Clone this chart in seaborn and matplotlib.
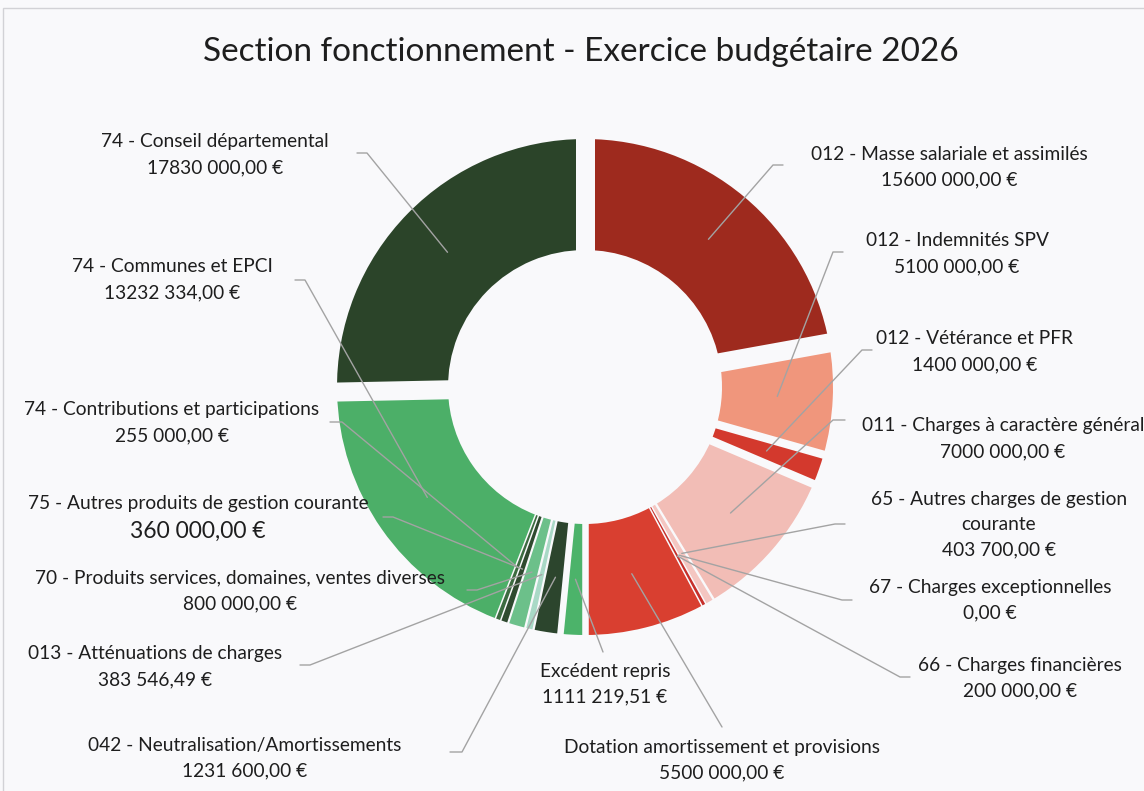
import numpy as np
import matplotlib
matplotlib.use("Agg")
import matplotlib.pyplot as plt
from matplotlib.patches import Rectangle
import seaborn as sns

# Postes du budget, dans l'ordre horaire à partir de midi
postes = [
    "012 - Masse salariale et assimilés",
    "012 - Indemnités SPV",
    "012 - Vétérance et PFR",
    "011 - Charges à caractère général",
    "65 - Autres charges de gestion\ncourante",
    "67 - Charges exceptionnelles",
    "66 - Charges financières",
    "Dotation amortissement et provisions",
    "Excédent repris",
    "042 - Neutralisation/Amortissements",
    "013 - Atténuations de charges",
    "70 - Produits services, domaines, ventes diverses",
    "75 - Autres produits de gestion courante",
    "74 - Contributions et participations",
    "74 - Communes et EPCI",
    "74 - Conseil départemental",
]
montants = [15600000, 5100000, 1400000, 7000000, 403700, 0, 200000, 5500000,
            1111219.51, 1231600, 383546.49, 800000, 360000, 255000, 13232334, 17830000]
montants_txt = ["15600 000,00 €", "5100 000,00 €", "1400 000,00 €", "7000 000,00 €",
                "403 700,00 €", "0,00 €", "200 000,00 €", "5500 000,00 €",
                "1111 219,51 €", "1231 600,00 €", "383 546,49 €", "800 000,00 €",
                "360 000,00 €", "255 000,00 €", "13232 334,00 €", "17830 000,00 €"]
couleurs = ["#9e2a1e", "#f0967c", "#d3392d", "#f2bdb6", "#f4c6c1", "#e8a9a3", "#c62f2a", "#d93f30",
            "#4cb36a", "#2c452d", "#a9d9c6", "#6cc08a", "#2f4a2f", "#3c6b40", "#4caf68", "#2b4429"]

titre = "Section fonctionnement - Exercice budgétaire 2026"

# Mise en page (pixels, y vers le bas)
W, H = 1144, 791
CX, CY, R, EP = 585, 387, 248, 111
FOND = "#f9f9fb"

# étiquettes : (x centre, y de la 1re ligne) et coude du trait (x, y, palier)
etiquettes = [(949, 154), (957, 241), (975, 339), (1003, 426), (999, 499), (990, 587), (1020, 665), (722, 747),
              (605, 671), (245, 745), (155, 654), (240, 578), (198, 503), (172, 410), (172, 267), (215, 142)]
coudes = [(773, 165, 10), (833, 252, 10), (862, 350, 10), (833, 420, 12), (835, 524, 10), (842, 600, 10),
          (900, 677, 10), (722, 727, 0), (603, 652, 0), (462, 752, -12), (310, 665, -10), (477, 590, -10),
          (393, 517, -10), (342, 422, -12), (305, 280, -10), (367, 153, -10)]


def Y(y):
    return H - y


sns.set_theme(style="white")
plt.rcParams['font.family'] = ['Lato', 'DejaVu Sans']

fig = plt.figure(figsize=(W / 100, H / 100), dpi=100, facecolor=FOND)
ax = fig.add_axes([0, 0, 1, 1])
ax.set_facecolor(FOND)

wedges, _ = ax.pie(montants, colors=couleurs, startangle=90, counterclock=False,
                   center=(CX, Y(CY)), radius=R, wedgeprops=dict(width=EP, linewidth=0))
ax.set_xlim(0, W)
ax.set_ylim(0, H)
ax.axis("off")

# séparations blanches entre les parts, plus fines pour les petites parts
deg = np.array(montants) / sum(montants) * 360
nz = [i for i in range(len(montants)) if montants[i] > 0]
for k, i in enumerate(nz):
    j = nz[(k + 1) % len(nz)]
    a = np.deg2rad(wedges[i].theta1)
    gap = np.clip(1.15 * min(deg[i], deg[j]), 1.5, 19) * 0.72
    r0, r1 = R - EP - 3, R + 3
    ax.plot([CX + r0 * np.cos(a), CX + r1 * np.cos(a)],
            [Y(CY) + r0 * np.sin(a), Y(CY) + r1 * np.sin(a)],
            color=FOND, lw=gap, solid_capstyle="butt", zorder=3)

# traits de rappel et étiquettes
for i, w in enumerate(wedges):
    m = np.deg2rad((w.theta1 + w.theta2) / 2)
    rm = R - EP / 2
    ax0, ay0 = CX + rm * np.cos(m), Y(CY) + rm * np.sin(m)
    cx_, cy_, pal = coudes[i]
    ax.plot([ax0, cx_, cx_ + pal], [ay0, Y(cy_), Y(cy_)], color="#a3a3a3", lw=1, zorder=4)

    x, y = etiquettes[i]
    lignes = postes[i].split("\n")
    for k, txt in enumerate(lignes):
        ax.text(x, Y(y + 25.5 * k), txt, ha="center", va="center", fontsize=13.8, color="#1e1e1e")
    gros = postes[i].startswith("75")
    ax.text(x, Y(y + 25.5 * len(lignes) + (3 if gros else 0)), montants_txt[i], ha="center", va="center",
            fontsize=16.5 if gros else 13.8, color="#1e1e1e")

ax.text(581, Y(52), titre, ha="center", va="center", fontsize=24, color="#1e1e1e")

# bord du scan
ax.add_patch(Rectangle((3, -20), W + 20, Y(8) + 20, fill=False, ec="#d2d2d6", lw=1, clip_on=False))

fig.savefig("out.png", dpi=100, facecolor=fig.get_facecolor())
